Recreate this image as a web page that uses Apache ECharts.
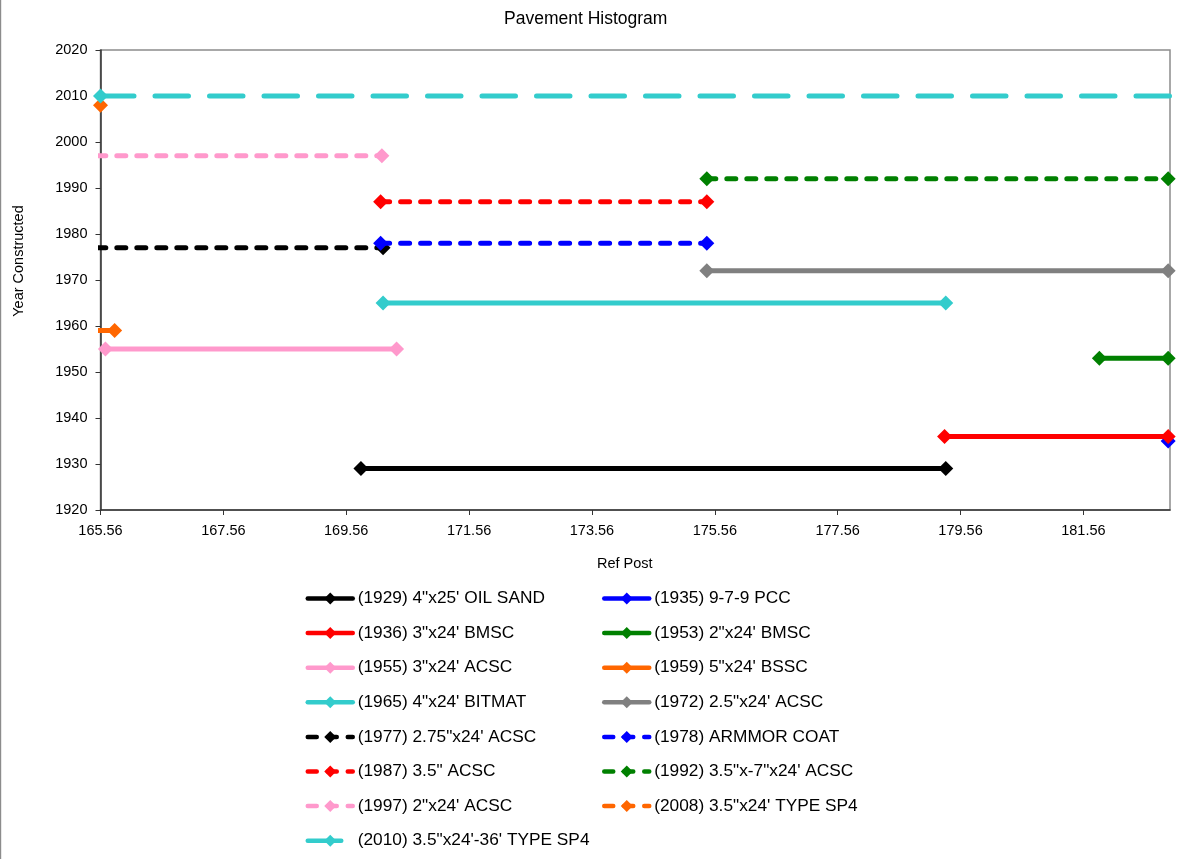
<!DOCTYPE html>
<html>
<head>
<meta charset="utf-8">
<title>Pavement Histogram</title>
<script src="https://cdn.jsdelivr.net/npm/echarts@6/dist/echarts.min.js"></script>
<style>
  html, body { margin: 0; padding: 0; background: #ffffff; }
  #chart { width: 1201px; height: 859px; }
</style>
</head>
<body>
<div id="chart"></div>
<script>
// Pavement layers: construction year and the ref-post span each layer covers
const layerNames = [
  '(1929) 4"x25\' OIL SAND',
  '(1935) 9-7-9 PCC',
  '(1936) 3"x24\' BMSC',
  '(1953) 2"x24\' BMSC',
  '(1955) 3"x24\' ACSC',
  '(1959) 5"x24\' BSSC',
  '(1965) 4"x24\' BITMAT',
  '(1972) 2.5"x24\' ACSC',
  '(1977) 2.75"x24\' ACSC',
  '(1978) ARMMOR COAT',
  '(1987) 3.5" ACSC',
  '(1992) 3.5"x-7"x24\' ACSC',
  '(1997) 2"x24\' ACSC',
  '(2008) 3.5"x24\' TYPE SP4',
  '(2010) 3.5"x24\'-36\' TYPE SP4'
];
const yearBuilt = [1929, 1935, 1936, 1953, 1955, 1959, 1965, 1972, 1977, 1978, 1987, 1992, 1997, 2008, 2010];
const postStart = [169.80, 182.94, 179.30, 181.82, 165.64, 165.50, 170.16, 175.43, 165.50, 170.12, 170.12, 175.43, 165.50, 165.56, 165.56];
const postEnd   = [179.32, null,   182.94, 182.94, 170.38, 165.79, 179.32, 182.94, 170.16, 175.43, 175.43, 182.94, 170.14, null,   183.20];

// Axis ranges and tick labels
const postMin = 165.56;
const postMax = 182.97;
const postTicks = [165.56, 167.56, 169.56, 171.56, 173.56, 175.56, 177.56, 179.56, 181.56];
const yearMin = 1920;
const yearMax = 2020;
const yearStep = 10;

// Styling per layer
const layerColors = ['#000000', '#0000ff', '#ff0000', '#008000', '#ff99cc', '#ff6600', '#33cccc', '#808080',
                     '#000000', '#0000ff', '#ff0000', '#008000', '#ff99cc', '#ff6600', '#33cccc'];
const layerDash = ['solid', 'solid', 'solid', 'solid', 'solid', 'solid', 'solid', 'solid',
                   'dash', 'dash', 'dash', 'dash', 'dash', 'dash', 'longdash'];
const dashPatterns = { solid: 'solid', dash: [9, 11], longdash: [33.5, 21] };

const leftColumn = [0, 2, 4, 6, 8, 10, 12, 14];
const rightColumn = [1, 3, 5, 7, 9, 11, 13];

const FONT = '"Liberation Sans", Arial, sans-serif';

const series = layerNames.map(function (name, i) {
  const pts = [[postStart[i], yearBuilt[i]]];
  if (postEnd[i] !== null) pts.push([postEnd[i], yearBuilt[i]]);
  return {
    name: name,
    type: 'line',
    data: pts,
    symbol: 'diamond',
    symbolSize: 15,
    showAllSymbol: true,
    clip: true,
    z: 2 + i * 0.01,
    itemStyle: { color: layerColors[i] },
    lineStyle: {
      color: layerColors[i],
      width: 5,
      type: dashPatterns[layerDash[i]],
      cap: 'round'
    },
    emphasis: { disabled: true },
    animation: false
  };
});

function legendFor(indices, left) {
  return {
    orient: 'vertical',
    left: left,
    top: 590,
    padding: 0,
    itemWidth: 45,
    itemHeight: 15,
    itemGap: 17.6,
    data: indices.map(function (i) { return layerNames[i]; }),
    textStyle: { fontFamily: FONT, fontSize: 17.3, color: '#000000', lineHeight: 17 },
    lineStyle: { width: 4.5 },
    selectedMode: false
  };
}

const chart = echarts.init(document.getElementById('chart'), null, { renderer: 'canvas' });
chart.setOption({
  backgroundColor: '#ffffff',
  animation: false,
  title: {
    text: 'Pavement Histogram',
    left: 499,
    top: 5,
    textStyle: { fontFamily: FONT, fontSize: 17.5, fontWeight: 'normal', color: '#000000' }
  },
  grid: {
    left: 100.5,
    top: 50,
    width: 1069.5,
    height: 460,
    show: true,
    borderColor: '#8c8c8c',
    borderWidth: 1.5,
    backgroundColor: 'transparent'
  },
  xAxis: {
    type: 'value',
    min: postMin,
    max: postMax,
    name: 'Ref Post',
    nameLocation: 'middle',
    nameGap: 46,
    nameTextStyle: { fontFamily: FONT, fontSize: 14.5, color: '#000000', padding: [0, 21, 0, 0] },
    axisLine: { show: true, onZero: false, lineStyle: { color: '#333333', width: 1.5 } },
    axisTick: { show: true, inside: false, length: 5, customValues: postTicks, lineStyle: { color: '#333333', width: 1 } },
    axisLabel: {
      customValues: postTicks,
      margin: 13,
      fontFamily: FONT, fontSize: 14.5, color: '#000000',
      formatter: function (v) { return v.toFixed(2); }
    },
    splitLine: { show: false }
  },
  yAxis: {
    type: 'value',
    min: yearMin,
    max: yearMax,
    interval: yearStep,
    axisLine: { show: true, lineStyle: { color: '#333333', width: 1.5 } },
    axisTick: { show: true, inside: false, length: 5, lineStyle: { color: '#333333', width: 1 } },
    axisLabel: {
      margin: 13, fontFamily: FONT, fontSize: 14.5, color: '#000000',
      formatter: function (v) { return String(v); }
    },
    splitLine: { show: false }
  },
  legend: [legendFor(leftColumn, 305.5), legendFor(rightColumn, 602)],
  graphic: [
    {
      type: 'text',
      x: 19,
      y: 261,
      rotation: Math.PI / 2,
      style: {
        text: 'Year Constructed',
        fontFamily: FONT,
        fontSize: 14.5,
        fill: '#000000',
        align: 'center',
        verticalAlign: 'middle'
      }
    },
    {
      type: 'rect',
      shape: { x: 0, y: 0, width: 1.2, height: 859 },
      style: { fill: '#8c8c8c' }
    }
  ],
  series: series
});
</script>
</body>
</html>
